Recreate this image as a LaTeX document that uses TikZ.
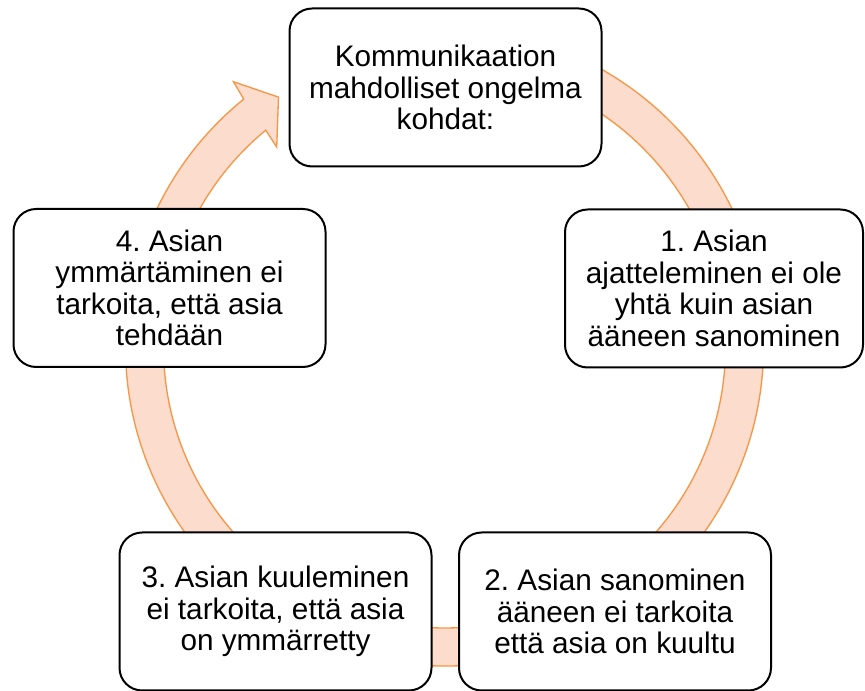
\documentclass[tikz,border=0pt]{standalone}
\usepackage{fontspec}
\setmainfont{Liberation Sans}
\frenchspacing
\tikzset{every picture/.style={line width=0.75pt}}
\tikzset{
  stagebox/.style={draw, line width=1.5pt, rounded corners=17pt, fill=white, align=center, inner sep=0pt,
    minimum width=234pt, minimum height=118.5pt, font=\fontsize{22.3}{23.6}\selectfont},
  cyclering/.style={draw={rgb, 255:red, 247; green, 150; blue, 70}, fill={rgb, 255:red, 251; green, 220; blue, 205},
    line width=1pt, line join=miter}
}
\begin{document}
\begin{tikzpicture}[x=0.75pt,y=0.75pt,yscale=-1,xscale=1]
\useasboundingbox (0,0) rectangle (865,691);

%Shape: Circular Arrow
\begin{scope}[shift={(444.5,347)}]
\draw [cyclering] (591.5:339) -- (596.4:300) -- (590:261) -- (590.5:281)
  arc [start angle=590.5, end angle=242, radius=281] -- (242:319)
  arc [start angle=242, end angle=591, radius=319] -- cycle;
\end{scope}

% Text Node
\node [stagebox] (problems) at (445.5,87.5) {Kommunikaation\\mahdolliset ongelma\\kohdat:};
% Text Node
\node [stagebox, minimum width=223.5pt] (thinking) at (714,288.5) {1. Asian\\ajatteleminen ei ole\\yhtä kuin asian\\ääneen sanominen};
% Text Node
\node [stagebox] (saying) at (615,611.5) {2. Asian sanominen\\ääneen ei tarkoita\\että asia on kuultu};
% Text Node
\node [stagebox] (hearing) at (275.5,611.5) {3. Asian kuuleminen\\ei tarkoita, että asia\\on ymmärretty};
% Text Node
\node [stagebox] (understanding) at (169.5,288) {4. Asian\\ymmärtäminen ei\\tarkoita, että asia\\tehdään};

\end{tikzpicture}
\end{document}
